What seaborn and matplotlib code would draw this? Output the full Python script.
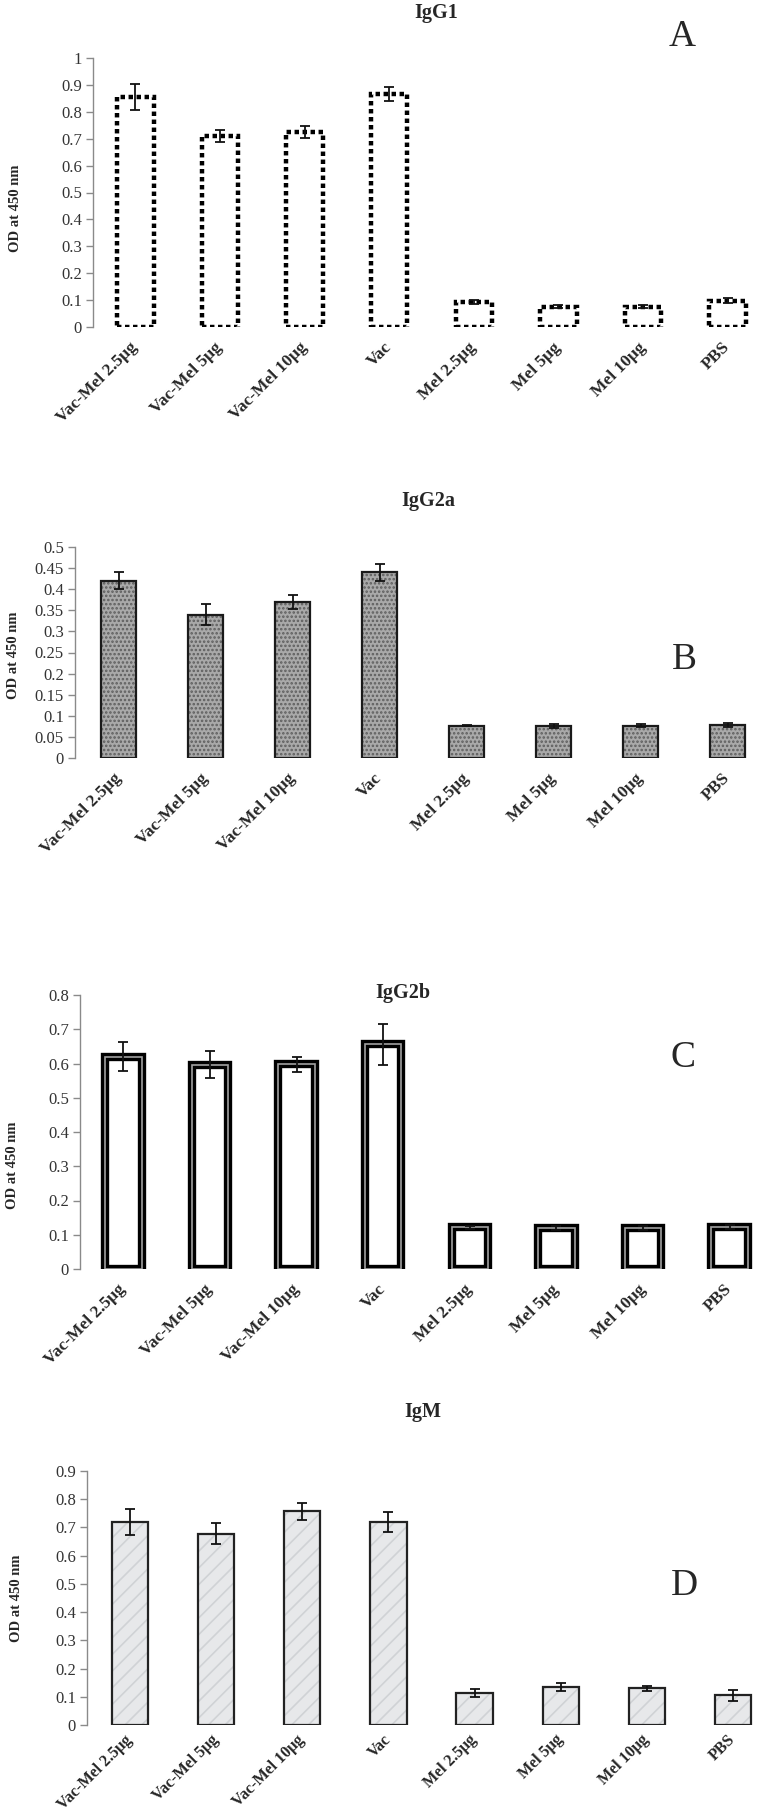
import numpy as np
import matplotlib
matplotlib.use("Agg")
import matplotlib.pyplot as plt
from matplotlib.patches import Rectangle
from matplotlib.ticker import FuncFormatter
import seaborn as sns

groups = ["Vac-Mel 2.5μg", "Vac-Mel 5μg", "Vac-Mel 10μg", "Vac",
          "Mel 2.5μg", "Mel 5μg", "Mel 10μg", "PBS"]

igg1 = [0.855, 0.71, 0.725, 0.868, 0.093, 0.075, 0.075, 0.098]
igg1_err = [0.047, 0.024, 0.024, 0.026, 0.007, 0.006, 0.005, 0.010]

igg2a = [0.42, 0.34, 0.37, 0.44, 0.077, 0.075, 0.077, 0.078]
igg2a_err = [0.02, 0.024, 0.016, 0.02, 0.002, 0.005, 0.004, 0.004]

igg2b = [0.62, 0.597, 0.598, 0.656, 0.122, 0.12, 0.12, 0.123]
igg2b_err = [0.043, 0.04, 0.022, 0.06, 0.005, 0.007, 0.005, 0.005]

igm = [0.72, 0.678, 0.758, 0.72, 0.112, 0.135, 0.13, 0.105]
igm_err = [0.045, 0.038, 0.03, 0.035, 0.014, 0.014, 0.009, 0.02]

sns.set_theme(style="white")
plt.rcParams["font.family"] = ["Liberation Serif", "DejaVu Serif"]
plt.rcParams["hatch.linewidth"] = 1.2

W, H = 765, 1818
fig = plt.figure(figsize=(W / 100, H / 100), dpi=100)


def px_axes(left, top, width, bottom):
    return fig.add_axes([left / W, 1 - bottom / H, width / W, (bottom - top) / H])


def style_axes(ax, ymax, step, xsize=12.5, xpad=13):
    ax.set_ylim(0, ymax)
    ax.set_xlim(-0.5, 7.5)
    ax.set_yticks(np.round(np.arange(0, ymax + step / 2, step), 3))
    ax.yaxis.set_major_formatter(FuncFormatter(lambda v, p: f"{v:g}"))
    for s in ["top", "right", "bottom"]:
        ax.spines[s].set_visible(False)
    ax.spines["left"].set_color("#8a8a8a")
    ax.spines["left"].set_linewidth(1.0)
    ax.tick_params(axis="y", left=True, length=5, width=1, color="#8a8a8a",
                   labelsize=12, labelcolor="#333333", pad=3)
    ax.tick_params(axis="x", bottom=False, length=0, pad=xpad)
    ax.set_xlabel("")
    ax.set_ylabel("")
    for lab in ax.get_xticklabels():
        lab.set_rotation(45)
        lab.set_ha("right")
        lab.set_va("center")
        lab.set_rotation_mode("anchor")
        lab.set_fontweight("bold")
        lab.set_fontsize(xsize)


def errbars(ax, vals, errs, lw=1.3):
    ax.errorbar(np.arange(len(vals)), vals, yerr=errs, fmt="none",
                ecolor="#111111", elinewidth=lw, capsize=3.5, capthick=lw, zorder=5)


# Panel A - IgG1
axA = px_axes(93, 58, 677, 327)
sns.barplot(x=groups, y=igg1, ax=axA, width=0.43, color="white",
            edgecolor="black", linewidth=3.2, linestyle=(0, (1, 0.8)))
errbars(axA, igg1, igg1_err)
style_axes(axA, 1.0, 0.1)

# Panel B - IgG2a
axB = px_axes(75, 547, 696, 758)
sns.barplot(x=groups, y=igg2a, ax=axB, width=0.41, color="#a9a9a9",
            edgecolor="#5e5e5e", linewidth=0, hatch="....")
for p in list(axB.patches):
    axB.add_patch(Rectangle(p.get_xy(), p.get_width(), p.get_height(),
                            fill=False, edgecolor="#1a1a1a", linewidth=1.6, zorder=3))
errbars(axB, igg2a, igg2a_err)
style_axes(axB, 0.5, 0.05)

# Panel C - IgG2b
axC = px_axes(80, 995, 693, 1269)
sns.barplot(x=groups, y=igg2b, ax=axC, width=0.42, color="white",
            edgecolor="black", linewidth=6)
for p in list(axC.patches):
    axC.add_patch(Rectangle(p.get_xy(), p.get_width(), p.get_height(),
                            fill=False, edgecolor="#a0a0a0", linewidth=1.2, zorder=3))
errbars(axC, igg2b, igg2b_err)
style_axes(axC, 0.8, 0.1)

# Panel D - IgM
axD = px_axes(87, 1471, 689, 1725)
sns.barplot(x=groups, y=igm, ax=axD, width=0.42, color="#e6e8ea",
            edgecolor="#d0d2d5", linewidth=0, hatch="//")
for p in list(axD.patches):
    axD.add_patch(Rectangle(p.get_xy(), p.get_width(), p.get_height(),
                            fill=False, edgecolor="#222222", linewidth=1.6, zorder=3))
errbars(axD, igm, igm_err)
style_axes(axD, 0.9, 0.1, xsize=11.5, xpad=9)

# titles, panel letters, y labels
titles = [("IgG1", 436, 13), ("IgG2a", 428, 501), ("IgG2b", 403, 993), ("IgM", 423, 1412)]
for t, x, y in titles:
    fig.text(x / W, 1 - y / H, t, ha="center", va="center", fontsize=14.5, fontweight="bold")

letters = [("A", 682, 37), ("B", 684, 660), ("C", 683, 1058), ("D", 684, 1586)]
for t, x, y in letters:
    fig.text(x / W, 1 - y / H, t, ha="center", va="center", fontsize=27)

ylabs = [(16, 208), (14, 655), (13, 1165), (17, 1598)]
for x, y in ylabs:
    fig.text(x / W, 1 - y / H, "OD at 450 nm", ha="center", va="center",
             rotation=90, fontsize=10.5, fontweight="bold")

fig.savefig("out.png", dpi=100)
